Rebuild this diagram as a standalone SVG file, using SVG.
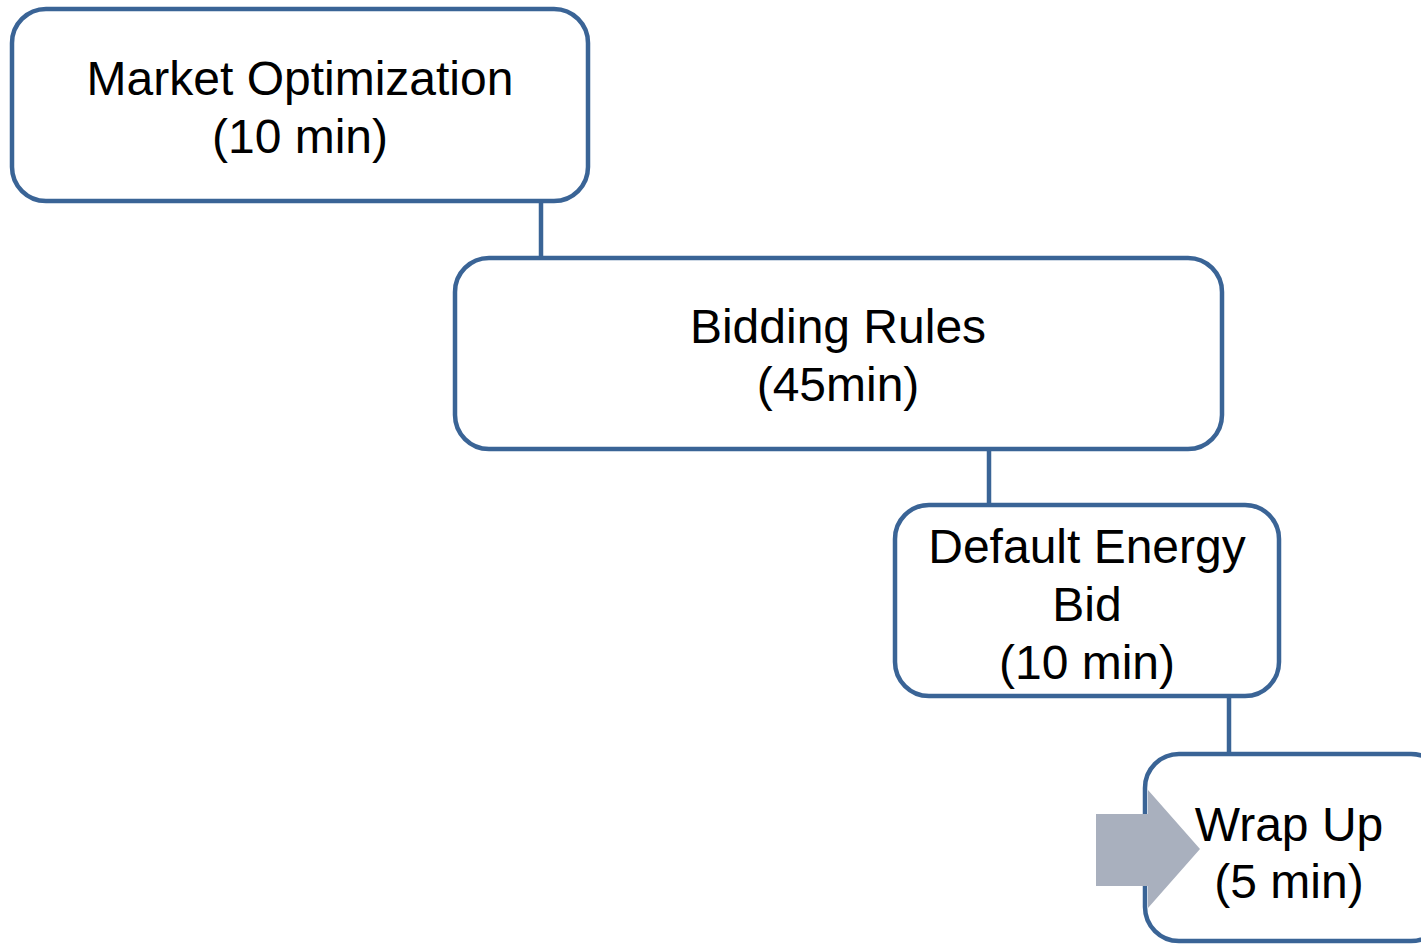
<svg xmlns="http://www.w3.org/2000/svg" width="1421" height="945" viewBox="0 0 1421 945">
<style>
.box{fill:#fff;stroke:#3a6496;stroke-width:4.5}
.con{stroke:#3a6496;stroke-width:4.5;fill:none}
.t{font-family:"Liberation Sans",Arial,sans-serif;font-size:48px;fill:#000;text-anchor:middle}
</style>
<rect width="1421" height="945" fill="#fff"/>
<g id="connectors">
<line class="con" x1="541" y1="201" x2="541" y2="258"/>
<line class="con" x1="989" y1="449" x2="989" y2="505"/>
<line class="con" x1="1229" y1="696" x2="1229" y2="754"/>
</g>
<g id="n1">
<rect class="box" x="12" y="9" width="576" height="192" rx="34"/>
<text class="t" x="300" y="95">Market Optimization</text>
<text class="t" x="300" y="153">(10 min)</text>
</g>
<g id="n2">
<rect class="box" x="455" y="258" width="767" height="191" rx="34"/>
<text class="t" x="838" y="343">Bidding Rules</text>
<text class="t" x="838" y="401">(45min)</text>
</g>
<g id="n3">
<rect class="box" x="895" y="505" width="384" height="191" rx="34"/>
<text class="t" x="1087" y="563">Default Energy</text>
<text class="t" x="1087" y="621">Bid</text>
<text class="t" x="1087" y="679">(10 min)</text>
</g>
<g id="n4">
<rect class="box" x="1145" y="754" width="300" height="187" rx="34"/>
<text class="t" x="1289" y="841">Wrap Up</text>
<text class="t" x="1289" y="898">(5 min)</text>
</g>
<g id="arrow">
<polygon fill="#a9b0be" points="1096,814 1148,814 1148,790 1200,849 1148,908 1148,886 1096,886"/>
</g>
</svg>
